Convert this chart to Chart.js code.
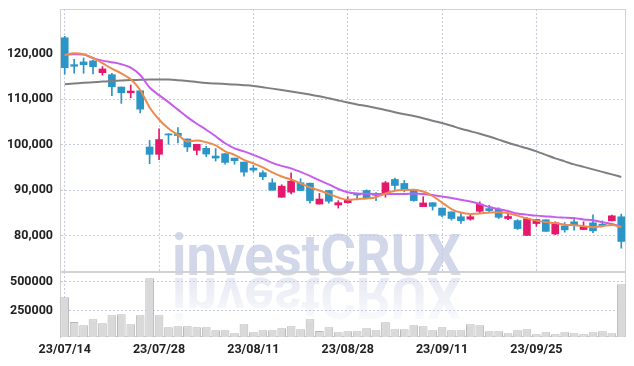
<!DOCTYPE html>
<html><head><meta charset="utf-8">
<script src="https://cdn.jsdelivr.net/npm/chart.js@4.4.1/dist/chart.umd.min.js"></script>
<style>
html,body{margin:0;padding:0;background:#fff;}
#wrap{position:relative;width:634px;height:366px;overflow:hidden;}
canvas{position:absolute;left:0;top:0;}
.wm{position:absolute;left:172px;top:226px;font-family:Roboto,'Liberation Sans',sans-serif;font-weight:bold;font-size:58px;line-height:58px;color:#d2d7ea;white-space:nowrap;transform-origin:0 48.8px;transform:scaleX(0.94);}
.wm.refl{transform:translateY(3px) scale(0.94,-1);opacity:0.55;-webkit-mask-image:linear-gradient(to bottom,rgba(0,0,0,0.1) 0%,rgba(0,0,0,1) 85%);mask-image:linear-gradient(to bottom,rgba(0,0,0,0.1) 0%,rgba(0,0,0,1) 85%);}
</style></head>
<body>
<div id="wrap">
  <div class="wm">investCRUX</div>
  <div class="wm refl">investCRUX</div>
  <canvas id="price" width="634" height="366"></canvas>
  <canvas id="vol" width="634" height="366"></canvas>
</div>
<script>
const dates = ['23/07/14','23/07/17','23/07/18','23/07/19','23/07/20','23/07/21','23/07/24','23/07/25','23/07/26','23/07/27',
 '23/07/28','23/07/31','23/08/01','23/08/02','23/08/03','23/08/04','23/08/07','23/08/08','23/08/09','23/08/10',
 '23/08/11','23/08/14','23/08/16','23/08/17','23/08/18','23/08/21','23/08/22','23/08/23','23/08/24','23/08/25',
 '23/08/28','23/08/29','23/08/30','23/08/31','23/09/01','23/09/04','23/09/05','23/09/06','23/09/07','23/09/08',
 '23/09/11','23/09/12','23/09/13','23/09/14','23/09/15','23/09/18','23/09/19','23/09/20','23/09/21','23/09/22',
 '23/09/25','23/09/26','23/09/27','23/10/04','23/10/05','23/10/06','23/10/10','23/10/11','23/10/12','23/10/13'];
const xTickLabels = ['23/07/14','23/07/28','23/08/11','23/08/28','23/09/11','23/09/25'];
const priceTicks = [80000, 90000, 100000, 110000, 120000];
const volumeTicks = [250000, 500000];

const openP = [123470,117570,118170,118390,115810,115360,112650,111390,111830,99470,
 97860,102340,102490,101240,98740,99180,97480,98000,97040,96160,
 94830,93820,91610,88430,89540,91610,91520,86930,89910,86720,
 87230,89270,89910,89140,89050,92340,91460,90060,86370,87230,
 86050,85220,84140,83610,85340,85940,85780,83750,83290,80040,
 82650,83470,80350,82140,83030,81330,82810,82520,83250,84130];
const highP = [123800,118760,119050,118600,117130,115670,112650,113090,111830,100950,
 103440,102400,103750,101240,100070,99620,99120,98000,97040,96160,
 95430,94260,92490,91190,93820,92490,91520,89270,89910,87670,
 88550,89270,90060,89430,91900,92630,92120,90060,88550,87230,
 86050,85220,85070,84510,87420,86670,86110,84720,83510,83980,
 83540,83470,83030,82870,83980,83030,84540,83250,84500,84720];
const lowP = [115450,115670,115670,115520,115230,110730,109050,110290,106980,95800,
 96690,100070,100350,98480,97750,97370,96380,95710,95710,93070,
 93950,92300,89980,88430,89140,89910,87110,86930,87110,86050,
 87110,87820,88210,87670,88430,90060,89600,87550,86370,85610,
 84180,83400,82650,83400,84990,84990,83750,83510,81330,80040,
 82030,80930,80190,80750,81190,81330,80640,82030,83250,77220];
const closeP = [116900,117220,117570,117130,116620,112710,111390,111770,107790,97860,
 101110,102120,101990,99470,100070,97920,97040,96090,96460,93950,
 94390,92940,89980,90860,91970,89910,87700,88040,87550,87230,
 87820,88920,88210,88840,91610,91010,90060,87700,87180,86420,
 84460,83760,83260,84140,86890,85500,84020,84200,81550,83730,
 83540,80930,82810,81260,82300,81920,81040,82210,84350,78720];
const volume = [365500,152600,124000,176000,141000,210000,219000,133000,210000,529000,
 210000,107000,115000,115000,107000,107000,81000,81000,55000,133000,
 64000,81000,81000,98000,115000,90000,176000,75000,107000,64000,
 72000,72000,98000,81000,150000,90000,90000,124000,115000,81000,
 107000,81000,81000,133000,124000,72000,72000,55000,81000,90000,
 47000,64000,47000,64000,55000,47000,64000,72000,55000,477000];
const ma5 = [119710,120090,119870,119050,117880,116690,115670,114340,111990,108170,
 105520,103530,102120,100700,100900,100510,99850,98520,97750,96650,
 95870,94990,93890,93000,92340,91460,90570,89910,89180,88370,
 87860,88040,88150,88430,89250,89850,90020,90070,89690,88700,
 87260,85830,85060,84770,84830,85060,85120,84950,84390,83780,
 83290,82960,82740,82410,82300,82080,81850,82080,82340,81810];
const ma10 = [119710,119870,119780,118980,118450,118100,117660,116910,115300,112540,
 110880,109340,107680,106030,104590,103270,101830,100290,99180,98520,
 97750,96910,95980,95320,94770,94000,93110,92120,91240,90240,
 89540,89250,89180,89140,89140,89140,89140,89250,89140,88920,
 88590,88260,87860,87480,86930,86270,85830,85390,84840,84610,
 84390,84220,84060,83950,83840,83550,83360,82960,82560,81960];
const ma60 = [113270,113420,113580,113710,113840,113970,114080,114170,114240,114310,
 114330,114280,114150,113970,113750,113550,113420,113310,113200,113050,
 112870,112580,112300,111990,111660,111330,110990,110620,110180,109710,
 109250,108830,108460,108060,107620,107130,106690,106290,105810,105250,
 104750,104150,103490,102940,102380,101770,101100,100400,99780,99180,
 98520,97750,96980,96320,95650,95100,94550,94000,93450,92890];

const UP = '#e5196c', DOWN = '#2a95c6';
const candleColors = closeP.map((c, i) => c >= openP[i] ? UP : DOWN);
const bodies = openP.map((o, i) => [o, closeP[i]]);
const wicks = lowP.map((l, i) => [l, highP[i]]);

const FONT = "Roboto,'Liberation Sans',sans-serif";
const GRID = '#c6cade';
const gridColor = c => (c.index % 10 === 0 ? GRID : 'rgba(0,0,0,0)');

const frame = {
  id: 'frame',
  beforeDatasetsDraw(chart) {
    const {ctx, chartArea: a} = chart;
    ctx.save();
    ctx.strokeStyle = '#d2d2d2';
    ctx.lineWidth = 1;
    ctx.strokeRect(Math.round(a.left) + 0.5, Math.round(a.top) + 0.5, Math.round(a.right - a.left) - 1, Math.round(a.bottom - a.top) - 1);
    ctx.restore();
  }
};

function noPadY(s) { s.width = 60; s.paddingTop = 0; s.paddingBottom = 0; }

const commonX = {
  offset: true,
  grid: {offset: false, drawTicks: false, color: gridColor},
  border: {display: false, dash: [2, 2]}
};

new Chart(document.getElementById('price'), {
  type: 'bar',
  data: {labels: dates, datasets: [
    {type: 'line', data: ma5, borderColor: '#ee8a4d', borderWidth: 2, pointRadius: 0, cubicInterpolationMode: 'monotone', order: 0},
    {type: 'line', data: ma10, borderColor: '#c65ded', borderWidth: 2, pointRadius: 0, cubicInterpolationMode: 'monotone', order: 1},
    {type: 'line', data: ma60, borderColor: '#7f7f7f', borderWidth: 2, pointRadius: 0, cubicInterpolationMode: 'monotone', order: 2},
    {type: 'bar', data: bodies, backgroundColor: candleColors, barThickness: 7, grouped: false, borderSkipped: false, minBarLength: 1, order: 3},
    {type: 'bar', data: wicks, backgroundColor: candleColors, barThickness: 1, grouped: false, borderSkipped: false, order: 4}
  ]},
  options: {
    responsive: false, animation: false, events: [], devicePixelRatio: 1,
    layout: {padding: {top: 9, bottom: 94, left: 0, right: 8}},
    plugins: {legend: {display: false}, tooltip: {enabled: false}},
    scales: {
      x: Object.assign({}, commonX, {ticks: {display: false, autoSkip: false}, afterFit(s) { s.height = 0; s.paddingLeft = 0; s.paddingRight = 0; }}),
      y: {
        min: 72000, max: 129800,
        afterBuildTicks(s) { s.ticks = priceTicks.map(v => ({value: v})); },
        ticks: {callback: v => Number(v).toLocaleString('en-US'), font: {family: FONT, size: 12.5, weight: 'bold'}, color: '#222', padding: 7},
        grid: {color: GRID, drawTicks: false},
        border: {display: true, color: '#cccccc', dash: [2, 2]},
        afterFit: noPadY
      }
    }
  },
  plugins: [frame]
});

new Chart(document.getElementById('vol'), {
  type: 'bar',
  data: {labels: dates, datasets: [
    {data: volume, backgroundColor: '#d9d9d9', borderColor: '#b8b8b8', borderWidth: 1, barPercentage: 1, categoryPercentage: 0.92}
  ]},
  options: {
    responsive: false, animation: false, events: [], devicePixelRatio: 1,
    layout: {padding: {top: 272, bottom: 0, left: 0, right: 8}},
    plugins: {legend: {display: false}, tooltip: {enabled: false}},
    scales: {
      x: Object.assign({}, commonX, {
        ticks: {autoSkip: false, maxRotation: 0, padding: 5, callback: (v, i) => (i % 10 === 0 ? xTickLabels[i / 10] : null), font: {family: FONT, size: 12.5, weight: 'bold'}, color: '#222'},
        afterFit(s) { s.height = 29; s.paddingLeft = 0; s.paddingRight = 0; }
      }),
      y: {
        min: 23000, max: 583600,
        afterBuildTicks(s) { s.ticks = volumeTicks.map(v => ({value: v})); },
        ticks: {callback: v => String(v), font: {family: FONT, size: 12.5, weight: 'bold'}, color: '#222', padding: 7},
        grid: {color: GRID, drawTicks: false},
        border: {display: true, color: '#cccccc', dash: [2, 2]},
        afterFit: noPadY
      }
    }
  },
  plugins: [frame]
});
</script>
</body></html>
